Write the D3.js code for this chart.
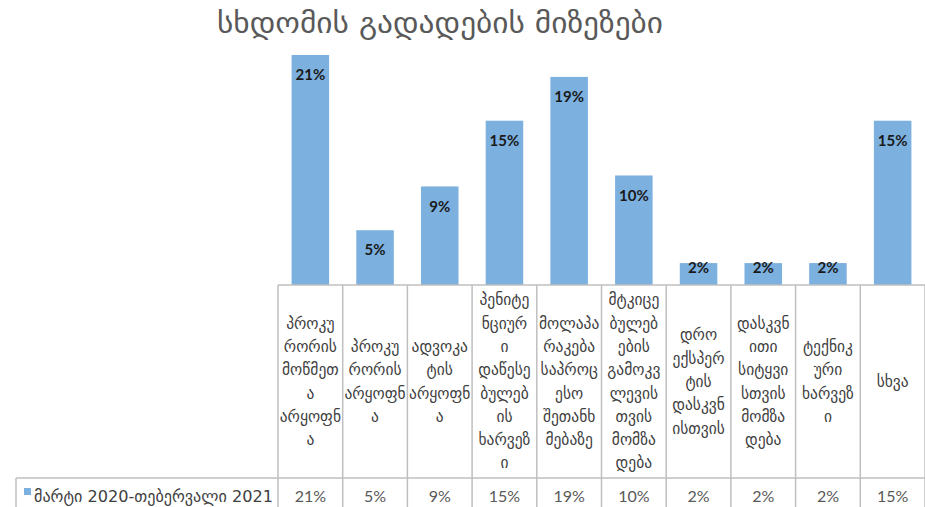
<!DOCTYPE html>
<html>
<head>
<meta charset="utf-8">
<script src="https://cdn.jsdelivr.net/npm/d3@7/dist/d3.min.js"></script>
<style>
  html, body { margin: 0; padding: 0; background: #fff; }
  svg { display: block; }
</style>
</head>
<body>
<svg id="chart" width="925" height="507"></svg>
<script>
// Reasons for postponing hearings, March 2020 - February 2021
const chartTitle = "სხდომის გადადების მიზეზები";
const seriesName = "მარტი 2020-თებერვალი 2021";
const categories = [
  "პროკურორის მოწმეთა არყოფნა",
  "პროკურორის არყოფნა",
  "ადვოკატის არყოფნა",
  "პენიტენციური დაწესებულების ხარვეზი",
  "მოლაპარაკება საპროცესო შეთანხმებაზე",
  "მტკიცებულებების გამოკვლევისთვის მომზადება",
  "დრო ექსპერტის დასკვნისთვის",
  "დასკვნითი სიტყვისთვის მომზადება",
  "ტექნიკური ხარვეზი",
  "სხვა"
];
// Category names as they wrap inside the table cells
const categoryLines = [
  ["პროკუ", "რორის", "მოწმეთ", "ა", "არყოფნ", "ა"],
  ["პროკუ", "რორის", "არყოფნ", "ა"],
  ["ადვოკა", "ტის", "არყოფნ", "ა"],
  ["პენიტე", "ნციურ", "ი", "დაწესე", "ბულებ", "ის", "ხარვეზ", "ი"],
  ["მოლაპა", "რაკება", "საპროც", "ესო", "შეთანხ", "მებაზე"],
  ["მტკიცე", "ბულებ", "ების", "გამოკვ", "ლევის", "თვის", "მომზა", "დება"],
  ["დრო", "ექსპერ", "ტის", "დასკვნ", "ისთვის"],
  ["დასკვნ", "ითი", "სიტყვი", "სთვის", "მომზა", "დება"],
  ["ტექნიკ", "ური", "ხარვეზ", "ი"],
  ["სხვა"]
];
const values = [21, 5, 9, 15, 19, 10, 2, 2, 2, 15];

const svg = d3.select("#chart");
const barColor = "#7cb0df";
const gridColor = "#bfbfbf";
const geoFont = "'DejaVu Sans', sans-serif";

const tableLeft = 278, tableRight = 925;
const baseline = 285, catBottom = 478, rowBottom = 514;
const legendLeft = 16;

const x = d3.scaleBand()
  .domain(categories)
  .range([tableLeft, tableRight])
  .paddingInner(0.42)
  .paddingOuter(0.21);
const step = x.step();

const y = d3.scaleLinear()
  .domain([0, 21])
  .range([baseline, 55]);

// Title
svg.append("text")
  .attr("x", 440)
  .attr("y", 33)
  .attr("text-anchor", "middle")
  .attr("font-family", geoFont)
  .attr("font-size", 29)
  .attr("fill", "#595959")
  .attr("textLength", 446)
  .attr("lengthAdjust", "spacingAndGlyphs")
  .text(chartTitle);

// Bars
svg.append("g").selectAll("rect")
  .data(values)
  .join("rect")
  .attr("x", (d, i) => x(categories[i]))
  .attr("y", d => y(d))
  .attr("width", x.bandwidth())
  .attr("height", d => baseline - y(d))
  .attr("fill", barColor);

// Value labels inside the bar tops
svg.append("g").selectAll("text")
  .data(values)
  .join("text")
  .attr("x", (d, i) => x(categories[i]) + x.bandwidth() / 2)
  .attr("y", d => Math.min(y(d) + 20, baseline - 17.5))
  .attr("dy", "0.35em")
  .attr("text-anchor", "middle")
  .attr("font-family", "Lato, 'Liberation Sans', sans-serif")
  .attr("font-weight", "bold")
  .attr("font-size", 15)
  .attr("fill", "#1a1a1a")
  .text(d => d + "%");

// Data table grid
const grid = svg.append("g")
  .attr("stroke", gridColor)
  .attr("stroke-width", 1.5)
  .attr("fill", "none");
grid.append("line")
  .attr("x1", tableLeft).attr("x2", tableRight)
  .attr("y1", baseline).attr("y2", baseline);
grid.append("line")
  .attr("x1", legendLeft).attr("x2", tableRight)
  .attr("y1", catBottom).attr("y2", catBottom);
grid.append("line")
  .attr("x1", legendLeft).attr("x2", legendLeft)
  .attr("y1", catBottom).attr("y2", rowBottom);
const colEdges = d3.range(categories.length + 1).map(i => tableLeft + i * step);
grid.selectAll("line.col")
  .data(colEdges)
  .join("line")
  .attr("class", "col")
  .attr("x1", d => d).attr("x2", d => d)
  .attr("y1", baseline).attr("y2", rowBottom);

// Category labels in the table header cells
const lineH = 23.3;
const catMid = (baseline + catBottom) / 2;
const catG = svg.append("g")
  .attr("font-family", geoFont)
  .attr("font-size", 15.5)
  .attr("fill", "#404040")
  .attr("text-anchor", "middle");
categoryLines.forEach((lines, i) => {
  const cx = tableLeft + (i + 0.5) * step;
  const t = catG.append("text")
    .attr("x", cx)
    .attr("y", catMid - (lines.length - 1) * lineH / 2);
  lines.forEach((ln, j) => {
    t.append("tspan")
      .attr("x", cx)
      .attr("dy", j === 0 ? "0.35em" : lineH)
      .text(ln);
  });
});

// Value row
const rowMid = 496;
svg.append("g").selectAll("text")
  .data(values)
  .join("text")
  .attr("x", (d, i) => tableLeft + (i + 0.5) * step)
  .attr("y", rowMid)
  .attr("dy", "0.35em")
  .attr("text-anchor", "middle")
  .attr("font-family", "Lato, 'Liberation Sans', sans-serif")
  .attr("font-size", 16)
  .attr("fill", "#595959")
  .text(d => d + "%");

// Legend key and series name
svg.append("rect")
  .attr("x", 24).attr("y", 488)
  .attr("width", 7).attr("height", 7)
  .attr("fill", barColor);
svg.append("text")
  .attr("x", 34)
  .attr("y", rowMid)
  .attr("dy", "0.35em")
  .attr("font-family", geoFont)
  .attr("font-size", 16)
  .attr("fill", "#404040")
  .attr("textLength", 239)
  .attr("lengthAdjust", "spacingAndGlyphs")
  .text(seriesName);
</script>
</body>
</html>
